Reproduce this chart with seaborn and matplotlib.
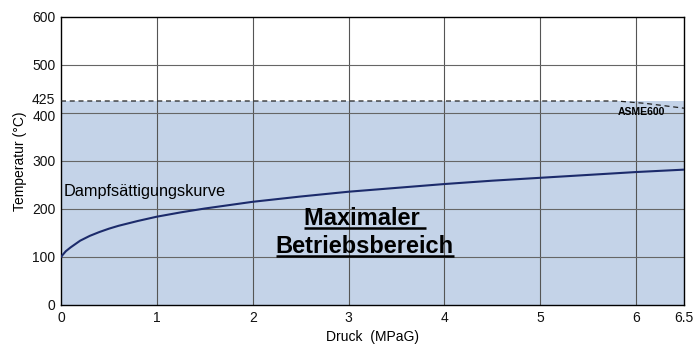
import matplotlib
matplotlib.use("Agg")
import matplotlib.pyplot as plt
import matplotlib.transforms as mtransforms
import seaborn as sns
import pandas as pd

# Data
pressure = [0, 0.02, 0.05, 0.1, 0.15, 0.2, 0.3, 0.4, 0.5, 0.6, 0.8, 1.0, 1.25, 1.5, 1.75,
            2.0, 2.5, 3.0, 3.5, 4.0, 4.5, 5.0, 5.5, 6.0, 6.5]
sat_temp = [100, 105, 112, 120, 127, 134, 144, 152, 159, 165, 175, 184, 193, 201, 208,
            215, 226, 236, 244, 252, 259, 265, 271, 277, 282]
limit_p = [0, 5.8, 6.1, 6.5]
limit_t = [425, 425, 420, 410]
max_temp = 425
x_ticks = [0, 1, 2, 3, 4, 5, 6, 6.5]
x_labels = ["0", "1", "2", "3", "4", "5", "6", "6.5"]
y_ticks = [0, 100, 200, 300, 400, 425, 500, 600]

sns.set_theme(style="white")
plt.rcParams['font.family'] = ['Liberation Sans', 'DejaVu Sans']
plt.rcParams['text.color'] = 'black'
plt.rcParams['axes.labelcolor'] = 'black'

fig = plt.figure(figsize=(7, 3.6), dpi=100)
ax = fig.add_axes([61/700, 55/360, 623/700, 288/360])

fill_color = "#c4d3e8"
ax.fill_between([0, 6.5], [0, 0], [max_temp, max_temp], color=fill_color, zorder=1, linewidth=0)

for xv in [1, 2, 3, 4, 5, 6]:
    ax.axvline(xv, color="#555555", lw=0.8, zorder=2)
for yv in [100, 200, 300, 400, 500]:
    ax.axhline(yv, color="#666666", lw=0.8, zorder=2)

df = pd.DataFrame({"p": pressure, "t": sat_temp})
sns.lineplot(data=df, x="p", y="t", ax=ax, color="#1c2b6b", lw=1.5, zorder=4)
ax.plot(limit_p, limit_t, color="#222222", lw=0.9, ls=(0, (4, 3)), zorder=4)

ax.set_xlim(0, 6.5)
ax.set_ylim(0, 600)
ax.set_xticks(x_ticks)
ax.set_xticklabels(x_labels)
ax.set_yticks(y_ticks)
ax.tick_params(axis="both", labelsize=10, length=0, pad=4, colors="#111111")
for lbl, v in zip(ax.get_yticklabels(), y_ticks):
    if v == 425:
        lbl.set_transform(lbl.get_transform() + mtransforms.ScaledTranslation(0, 1.5/72, fig.dpi_scale_trans))
    if v == 400:
        lbl.set_transform(lbl.get_transform() + mtransforms.ScaledTranslation(0, -1.5/72, fig.dpi_scale_trans))
ax.set_xlabel("Druck  (MPaG)", fontsize=10, labelpad=4)
ax.set_ylabel("Temperatur (°C)", fontsize=10, labelpad=4)
for s in ax.spines.values():
    s.set_visible(True)
    s.set_color("black")
    s.set_linewidth(1.0)

ax.text(0.03, 237, "Dampfsättigungskurve", fontsize=11.7, ha="left", va="center", zorder=5)
t1 = ax.text(3.17, 167, "Maximaler ", fontsize=17, fontweight="bold", ha="center", va="baseline", zorder=5)
t2 = ax.text(3.17, 109, "Betriebsbereich", fontsize=17, fontweight="bold", ha="center", va="baseline", zorder=5)
ax.text(6.06, 402, "ASME600", fontsize=7.5, fontweight="bold", ha="center", va="center", zorder=5)

fig.canvas.draw()
r = fig.canvas.get_renderer()
for t in (t1, t2):
    bb = t.get_window_extent(renderer=r)
    xd, yd = t.get_position()
    _, ybase = ax.transData.transform((xd, yd))
    inv = ax.transData.inverted()
    x0, y0 = inv.transform((bb.x0, ybase - 3))
    x1, _ = inv.transform((bb.x1, ybase - 3))
    ax.plot([x0, x1], [y0, y0], color="black", lw=1.8, zorder=5, solid_capstyle="butt")

fig.savefig("out.png", dpi=100)
